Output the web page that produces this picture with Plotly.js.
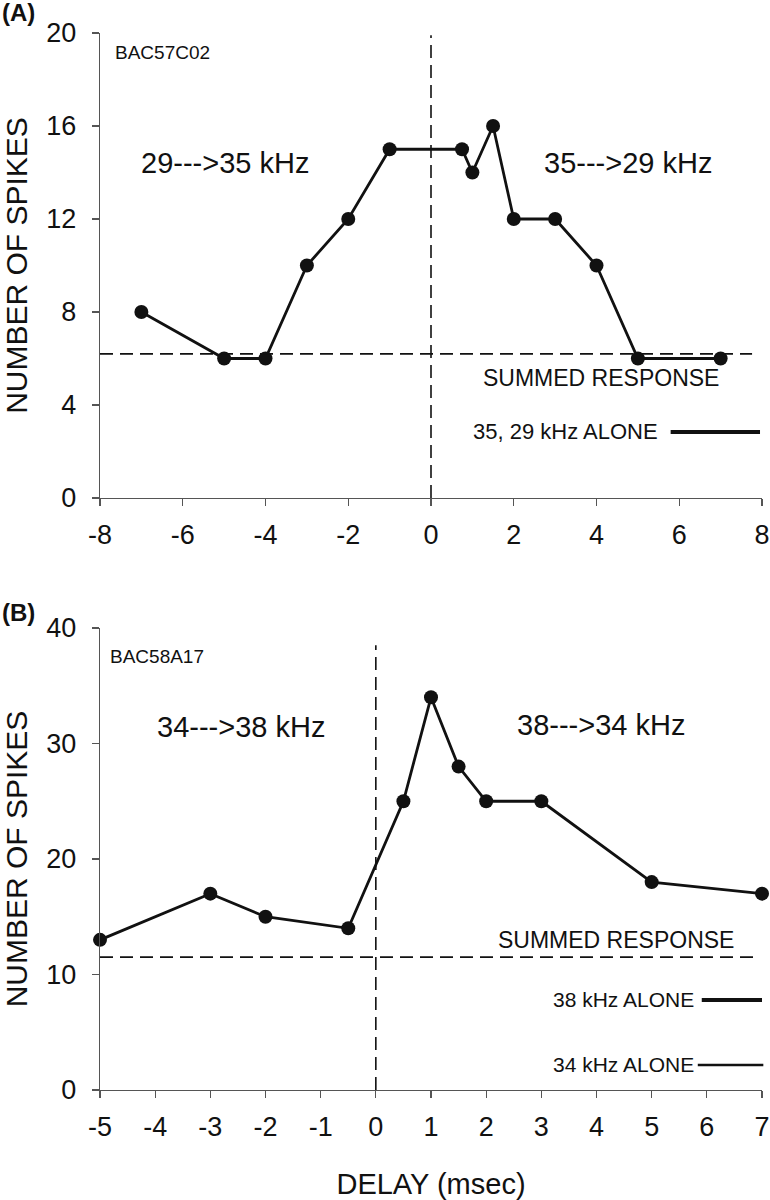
<!DOCTYPE html>
<html>
<head>
<meta charset="utf-8">
<script src="https://cdn.plot.ly/plotly-3.0.1.min.js"></script>
<style>html,body{margin:0;padding:0;background:#fff;}#chart{width:770px;height:1200px;}</style>
</head>
<body>
<div id="chart"></div>
<script>
// Panel A data (BAC57C02)
const delayA = [-7, -5, -4, -3, -2, -1, 0.75, 1, 1.5, 2, 3, 4, 5, 7];
const spikesA = [8, 6, 6, 10, 12, 15, 15, 14, 16, 12, 12, 10, 6, 6];
const summedA = 6.2;
const ticksAx = [-8, -6, -4, -2, 0, 2, 4, 6, 8];
const tickTextAx = ['-8', '-6', '-4', '-2', '0', '2', '4', '6', '8'];
const ticksAy = [0, 4, 8, 12, 16, 20];

// Panel B data (BAC58A17)
const delayB = [-5, -3, -2, -0.5, 0.5, 1, 1.5, 2, 3, 5, 7];
const spikesB = [13, 17, 15, 14, 25, 34, 28, 25, 25, 18, 17];
const summedB = 11.5;
const ticksBx = [-5, -4, -3, -2, -1, 0, 1, 2, 3, 4, 5, 6, 7];
const tickTextBx = ['-5', '-4', '-3', '-2', '-1', '0', '1', '2', '3', '4', '5', '6', '7'];
const ticksBy = [0, 10, 20, 30, 40];

const labels = {
  panelA: '(A)', panelB: '(B)',
  unitA: 'BAC57C02', unitB: 'BAC58A17',
  leftA: '29--->35 kHz', rightA: '35--->29 kHz',
  leftB: '34--->38 kHz', rightB: '38--->34 kHz',
  summed: 'SUMMED RESPONSE',
  aloneA: '35, 29 kHz ALONE',
  alone38: '38 kHz ALONE', alone34: '34 kHz ALONE',
  ytitle: 'NUMBER OF SPIKES', xtitle: 'DELAY (msec)'
};

const FONT = 'Liberation Sans, Arial, Helvetica, sans-serif';
const INK = '#111';
const AXC = '#555';

const lineTrace = (x, y, xa, ya) => ({
  type: 'scatter', mode: 'lines+markers', x: x, y: y, xaxis: xa, yaxis: ya,
  line: {color: INK, width: 2.8},
  marker: {color: INK, size: 14, symbol: 'circle'},
  cliponaxis: false,
  showlegend: false, hoverinfo: 'x+y'
});

const data = [
  lineTrace(delayA, spikesA, 'x', 'y'),
  lineTrace(delayB, spikesB, 'x2', 'y2')
];

const axisBase = {
  showgrid: false, zeroline: false, showline: true, linecolor: AXC, linewidth: 1.2,
  ticks: 'outside', ticklen: 7, tickwidth: 1.2, tickcolor: AXC,
  ticklabeloverflow: 'allow',
  tickfont: {family: FONT, size: 27, color: INK}, fixedrange: true
};

const xDom = [100/770, 762/770];

const layout = {
  width: 770, height: 1200,
  margin: {l: 0, r: 0, t: 0, b: 0},
  paper_bgcolor: '#fff', plot_bgcolor: '#fff',
  showlegend: false,
  font: {family: FONT, color: INK},
  xaxis: Object.assign({}, axisBase, {
    domain: xDom, anchor: 'y', range: [-8, 8], tickvals: ticksAx, ticktext: tickTextAx, ticklabelstandoff: 5
  }),
  yaxis: Object.assign({}, axisBase, {
    domain: [1 - 498/1200, 1 - 33/1200], anchor: 'x', range: [0, 20], tickvals: ticksAy,
    ticklabelstandoff: 10,
    title: {text: labels.ytitle, font: {family: FONT, size: 30, color: INK}, standoff: 14}
  }),
  xaxis2: Object.assign({}, axisBase, {
    domain: xDom, anchor: 'y2', range: [-5, 7], tickvals: ticksBx, ticktext: tickTextBx, ticklabelstandoff: 5,
    title: {text: labels.xtitle, font: {family: FONT, size: 29, color: INK}, standoff: 34}
  }),
  yaxis2: Object.assign({}, axisBase, {
    domain: [1 - 1090/1200, 1 - 628/1200], anchor: 'x2', range: [0, 40], tickvals: ticksBy,
    ticklabelstandoff: 10,
    title: {text: labels.ytitle, font: {family: FONT, size: 30, color: INK}, standoff: 14}
  }),
  shapes: [
    // Panel A: summed response and zero delay
    {type: 'line', xref: 'x domain', yref: 'y', x0: 0, x1: 0.985, y0: summedA, y1: summedA,
     line: {color: INK, width: 1.6, dash: '13px,7px'}},
    {type: 'line', xref: 'x', yref: 'y', x0: 0, x1: 0, y0: 0, y1: 19.9,
     line: {color: INK, width: 1.6, dash: '13px,7px'}},
    {type: 'line', xref: 'x domain', yref: 'y domain', x0: 0.862, x1: 0.997, y0: 0.142, y1: 0.142,
     line: {color: INK, width: 4}},
    // Panel B
    {type: 'line', xref: 'x2 domain', yref: 'y2', x0: 0, x1: 0.993, y0: summedB, y1: summedB,
     line: {color: INK, width: 1.6, dash: '13px,7px'}},
    {type: 'line', xref: 'x2', yref: 'y2', x0: 0, x1: 0, y0: 0, y1: 38.5,
     line: {color: INK, width: 1.6, dash: '13px,7px'}},
    {type: 'line', xref: 'x2 domain', yref: 'y2 domain', x0: 0.909, x1: 1.0, y0: 0.195, y1: 0.195,
     line: {color: INK, width: 4}},
    {type: 'line', xref: 'x2 domain', yref: 'y2 domain', x0: 0.903, x1: 1.002, y0: 0.054, y1: 0.054,
     line: {color: INK, width: 2.6}}
  ],
  annotations: [
    {text: '<b>' + labels.panelA + '</b>', xref: 'paper', yref: 'paper', x: 0, y: 1 - 12/1200,
     xanchor: 'left', yanchor: 'middle', showarrow: false, font: {family: FONT, size: 24, color: INK}},
    {text: '<b>' + labels.panelB + '</b>', xref: 'paper', yref: 'paper', x: 0, y: 1 - 612/1200,
     xanchor: 'left', yanchor: 'middle', showarrow: false, font: {family: FONT, size: 24, color: INK}},
    {text: labels.unitA, xref: 'x domain', yref: 'y domain', x: 0.02, y: 0.959,
     xanchor: 'left', yanchor: 'middle', showarrow: false, font: {family: FONT, size: 19, color: INK}},
    {text: labels.unitB, xref: 'x2 domain', yref: 'y2 domain', x: 0.012, y: 0.939,
     xanchor: 'left', yanchor: 'middle', showarrow: false, font: {family: FONT, size: 19, color: INK}},
    {text: labels.leftA, xref: 'x', yref: 'y', x: -4.98, y: 14.4,
     xanchor: 'center', yanchor: 'middle', showarrow: false, font: {family: FONT, size: 29, color: INK}},
    {text: labels.rightA, xref: 'x', yref: 'y', x: 4.76, y: 14.4,
     xanchor: 'center', yanchor: 'middle', showarrow: false, font: {family: FONT, size: 29, color: INK}},
    {text: labels.summed, xref: 'x', yref: 'y', x: 4.1, y: 5.16,
     xanchor: 'center', yanchor: 'middle', showarrow: false, font: {family: FONT, size: 23, color: INK}},
    {text: labels.aloneA, xref: 'x', yref: 'y', x: 5.53, y: 2.84,
     xanchor: 'right', yanchor: 'middle', showarrow: false, font: {family: FONT, size: 22, color: INK}},
    {text: labels.leftB, xref: 'x2', yref: 'y2', x: -2.45, y: 31.4,
     xanchor: 'center', yanchor: 'middle', showarrow: false, font: {family: FONT, size: 29, color: INK}},
    {text: labels.rightB, xref: 'x2', yref: 'y2', x: 4.08, y: 31.6,
     xanchor: 'center', yanchor: 'middle', showarrow: false, font: {family: FONT, size: 29, color: INK}},
    {text: labels.summed, xref: 'x2', yref: 'y2', x: 4.36, y: 13.0,
     xanchor: 'center', yanchor: 'middle', showarrow: false, font: {family: FONT, size: 23, color: INK}},
    {text: labels.alone38, xref: 'x2', yref: 'y2', x: 5.81, y: 7.8,
     xanchor: 'right', yanchor: 'middle', showarrow: false, font: {family: FONT, size: 21, color: INK}},
    {text: labels.alone34, xref: 'x2', yref: 'y2', x: 5.81, y: 2.2,
     xanchor: 'right', yanchor: 'middle', showarrow: false, font: {family: FONT, size: 21, color: INK}}
  ]
};

Plotly.newPlot('chart', data, layout, {displayModeBar: false, staticPlot: true});
</script>
</body>
</html>
